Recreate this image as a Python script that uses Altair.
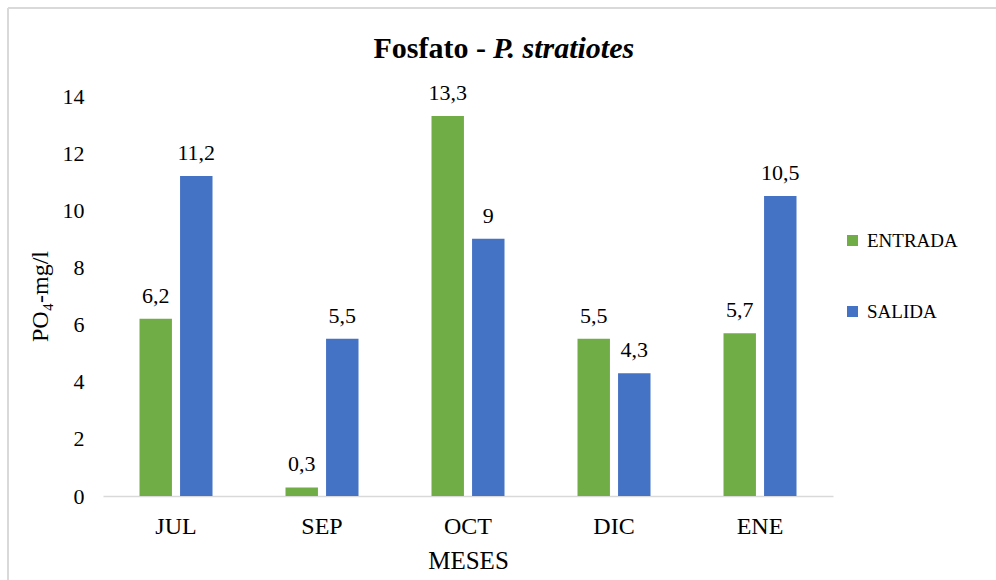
import altair as alt
import pandas as pd

meses = ["JUL", "SEP", "OCT", "DIC", "ENE"]
entrada = [6.2, 0.3, 13.3, 5.5, 5.7]
salida = [11.2, 5.5, 9.0, 4.3, 10.5]
series = ["ENTRADA", "SALIDA"]
colores = ["#70AD47", "#4472C4"]

rows = []
for m, e, s in zip(meses, entrada, salida):
    rows.append({"mes": m, "serie": "ENTRADA", "valor": e})
    rows.append({"mes": m, "serie": "SALIDA", "valor": s})
df = pd.DataFrame(rows)

FONT = "Liberation Serif"

base = alt.Chart(df).encode(
    x=alt.X("mes:N", sort=meses,
            scale=alt.Scale(paddingInner=0.5, paddingOuter=0.25),
            axis=alt.Axis(title="MESES", labelAngle=0, ticks=False,
                          domainColor="#D9D9D9", domainWidth=1.5,
                          labelFontSize=24, titleFontSize=25, labelPadding=18,
                          titlePadding=10, labelColor="#000", titleColor="#000",
                          titleFontWeight="normal", labelFont=FONT, titleFont=FONT)),
    xOffset=alt.XOffset("serie:N", sort=series, scale=alt.Scale(paddingInner=0.2)),
)

bars = base.mark_bar().encode(
    y=alt.Y("valor:Q", scale=alt.Scale(domain=[0, 14]),
            axis=alt.Axis(title="PO₄-mg/l", values=[0, 2, 4, 6, 8, 10, 12, 14],
                          grid=False, domain=False, ticks=False,
                          labelFontSize=22, titleFontSize=24, labelPadding=19,
                          titlePadding=10, labelColor="#000", titleColor="#000",
                          titleFontWeight="normal", labelFont=FONT, titleFont=FONT)),
    color=alt.Color("serie:N", sort=series,
                    scale=alt.Scale(domain=series, range=colores),
                    legend=alt.Legend(title=None, orient="none", legendX=740, legendY=135,
                                      symbolType="square", symbolSize=121,
                                      symbolStrokeWidth=0, labelFontSize=19,
                                      labelFont=FONT, labelColor="#000",
                                      rowPadding=51, labelOffset=5)),
)

labels = base.mark_text(baseline="alphabetic", dy=-16, fontSize=22, font=FONT, color="#000").transform_calculate(
    etiqueta="replace(toString(datum.valor), '.', ',')"
).encode(
    y=alt.Y("valor:Q"),
    text=alt.Text("etiqueta:N"),
)

one = pd.DataFrame({"k": [0]})
t1 = alt.Chart(one).mark_text(align="right", baseline="alphabetic", fontSize=30,
                              fontWeight="bold", font=FONT, color="#000").encode(
    x=alt.value(383), y=alt.value(-38), text=alt.value("Fosfato -"))
t2 = alt.Chart(one).mark_text(align="left", baseline="alphabetic", fontSize=30,
                              fontWeight="bold", fontStyle="italic", font=FONT, color="#000").encode(
    x=alt.value(390), y=alt.value(-38), text=alt.value("P. stratiotes"))

border_top = alt.Chart(one).mark_rule(color="#D9D9D9", strokeWidth=2).encode(
    x=alt.value(-95), x2=alt.value(900), y=alt.value(-88))
border_left = alt.Chart(one).mark_rule(color="#D9D9D9", strokeWidth=2).encode(
    x=alt.value(-95), y=alt.value(-88), y2=alt.value(490))

chart = alt.layer(border_top, border_left, bars, labels, t1, t2).properties(
    width=730, height=400,
    autosize=alt.AutoSizeParams(type="none"),
    padding={"left": 103, "top": 96, "right": 163, "bottom": 84},
    background="white",
).configure(font=FONT).configure_view(stroke=None)

chart.save("out.html", embed_options={"renderer": "svg", "actions": False})
